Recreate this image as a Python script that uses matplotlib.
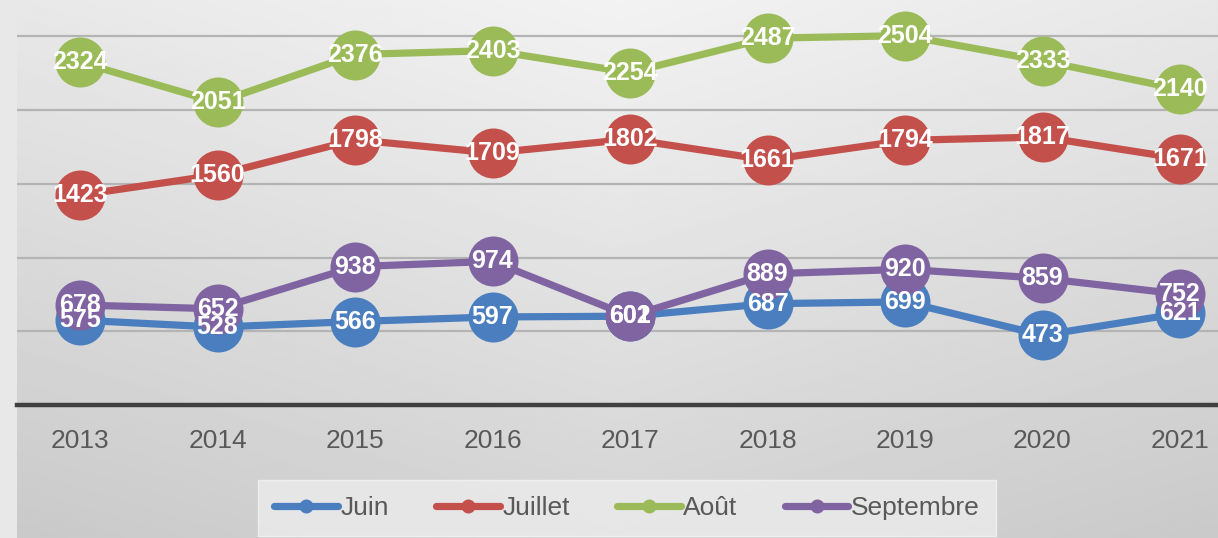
#!/usr/bin/env python3
"""Monthly values 2013-2021, Excel-style line chart with value bubbles."""

import numpy as np
import matplotlib
matplotlib.use("Agg")
import matplotlib.pyplot as plt

years = [2013, 2014, 2015, 2016, 2017, 2018, 2019, 2020, 2021]
juin = [575, 528, 566, 597, 602, 687, 699, 473, 621]
juillet = [1423, 1560, 1798, 1709, 1802, 1661, 1794, 1817, 1671]
aout = [2324, 2051, 2376, 2403, 2254, 2487, 2504, 2333, 2140]
septembre = [678, 652, 938, 974, 601, 889, 920, 859, 752]

series = [
    ("Juin", juin, "#4a7ebf"),
    ("Juillet", juillet, "#c4504c"),
    ("Août", aout, "#9bbb59"),
    ("Septembre", septembre, "#8064a2"),
]

plt.rcParams["font.family"] = ["Liberation Sans", "DejaVu Sans"]

W, H = 1218, 538
fig = plt.figure(figsize=(W / 100, H / 100), dpi=100)
fig.patch.set_facecolor("#e8e8e8")

left = 17 / W
ax = fig.add_axes([left, 0, 1 - left, 1])

# pixel -> data mapping
x_left = 2013 + (17 - 80) / 137.5
x_right = 2013 + (W - 80) / 137.5
y_top = 405 / 0.1475
y_bot = (405 - H) / 0.1475
ax.set_xlim(x_left, x_right)
ax.set_ylim(y_bot, y_top)

# gradient background
gy, gx = np.mgrid[0:1:200j, 0:1:300j]
shade = 0.95 - 0.12 * gy - 0.04 * np.abs(gx - 0.5) * 2
ax.imshow(shade, cmap="gray", vmin=0, vmax=1, aspect="auto",
          extent=[x_left, x_right, y_bot, y_top], origin="upper", zorder=0)

for g in [500, 1000, 1500, 2000, 2500]:
    ax.axhline(g, color="#b4b4b4", lw=1.6, zorder=1)

for name, vals, col in series:
    ax.plot(years, vals, color=col, lw=5.2, zorder=2, solid_capstyle="round",
            label=name, marker="o", markersize=36, markeredgewidth=0)
    for x, v in zip(years, vals):
        ax.text(x, v, str(v), color="white", fontsize=18, fontweight="bold",
                ha="center", va="center", zorder=4)

for s in ["top", "left", "right"]:
    ax.spines[s].set_visible(False)
ax.spines["bottom"].set_position(("data", 0))
ax.spines["bottom"].set_color("#404040")
ax.spines["bottom"].set_linewidth(3.2)
ax.spines["bottom"].set_zorder(3)
ax.set_yticks([])
ax.set_xticks(years)
ax.set_xticklabels([str(y) for y in years])
ax.tick_params(axis="x", length=0, pad=17, labelsize=19, labelcolor="#595959")

handles, labels = ax.get_legend_handles_labels()
leg = fig.legend(handles, labels, loc="center", ncol=4,
                 bbox_to_anchor=(627 / W, (H - 508) / H),
                 frameon=True, fontsize=19, handlelength=2.4,
                 columnspacing=1.8, handletextpad=0.1, borderpad=0.6,
                 markerscale=0.28)
leg.get_frame().set_facecolor("#ececec")
leg.get_frame().set_edgecolor("#f4f4f4")
leg.get_frame().set_boxstyle("square", pad=0)
for t in leg.get_texts():
    t.set_color("#595959")

fig.savefig("out.png", dpi=100)
